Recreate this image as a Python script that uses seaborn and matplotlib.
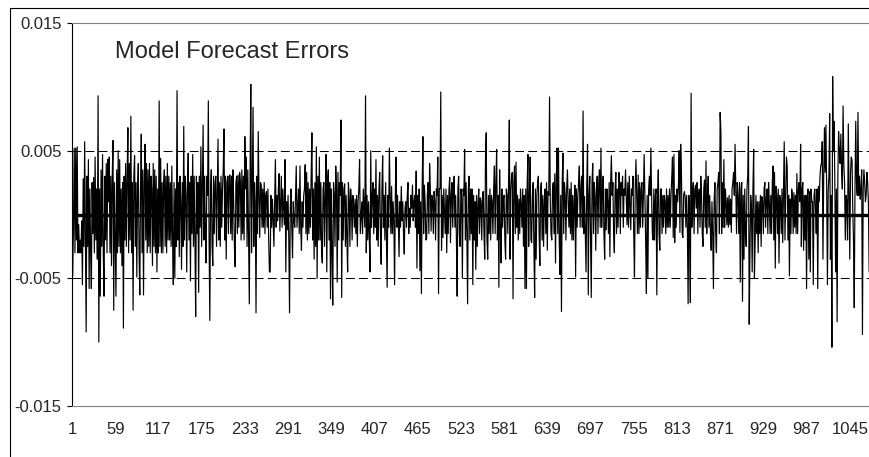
import numpy as np
import pandas as pd
import matplotlib
matplotlib.use("Agg")
import matplotlib.pyplot as plt
import seaborn as sns
from matplotlib.lines import Line2D

# Forecast errors, in units of 1e-4 (obs 1..1072)
err_a = [
    -10, -48, -5, 52, -30, 52, -20, 53, -30, -8,
    -30, -20, -30, -5, -55, 28, -25, 57, -20, -92,
    30, -25, 43, -58, 20, -30, -58, 25, -15, 29,
    -30, 45, -20, 20, -35, 93, -100, 20, -64, 35,
    -25, 47, -30, -64, 30, -20, 40, -30, 43, 10,
    45, -30, 30, -40, 30, 58, -75, 25, -20, -64,
    35, -30, 50, -25, 43, -30, 20, -40, 25, -89,
    30, -20, 40, -25, 30, 68, -30, 40, -20, 77,
    -30, 25, -75, 30, 46, -25, 25, -49, 20, 40,
    -30, -63, 20, 63, -30, 35, -63, 25, 55, -20,
    40, -30, 35, -25, 40, -30, 30, 20, -40, 40,
    -25, 35, -30, 30, -45, 20, -30, 89, -25, 44,
    -30, 25, -30, 25, 35, -25, 30, -30, 40, -20,
    30, -20, 25, -25,
]
err_b = [
    38, -20, -55, 25, -50, 20, -25, 97, -20, 25,
    -33, 30, 10, -43, 25, -25, 69, -20, 30, 15,
    -45, 25, 48, -20, 25, -52, 30, -15, 47, -25,
    30, -20, -80, 30, -15, 25, -61, 30, -10, 53,
    -25, 25, 70, -20, 30, -15, -38, 30, 15, 89,
    -20, -83, 20, 35, -25, -40, 30, -15, 25, 30,
    -25, 20, 59, -20, 25, -25, 30, -10, 20, 35,
    67, -20, 30, -35, 25, 30, -15, 30, 31, -15,
    30, -20, 35, 10, -25, -41, 25, 30, -15, 31,
    -10, 33, 25, -20, 35, -15, 30, -20, 61, 20,
    45, -25, 35, -20, -70, 30, 102, -30, 20, 84,
    -25, 25, 10, -77, 30, -15, 65, 15, -18, 25,
    23, -10, 20, -10, 25, -15, 15, 18, -10, 20, -20, -45,
]
err_c = [
    -45, 15, -10, 12, -5, -25, 10, 43, -10, 15,
    -5, 20, 32, -13, 10, 30, -10, 20, 5, -8,
    43, -45, 10, -12, 15, -20, -77, 5, 20, -10,
    -34, 10, -5, -10, 15, 38, -10, 5, 20, -15,
    38, -10, -28, 10, -10, 15, 20, 39, -15, 33,
    -20, 25, -15, 20, -10, 30, 64, -20, 20, -35,
    25, -25, 53, -50, 30, -20, 45, -20, 25, -30,
    -38, 20, 25, -25, 15, 47, -45, 25, 35, -20,
    25, -66, 20, -30, -71, 25, 15, -25, 38, 20,
    -53, 33, -20, 25, 15, 74, -65, 25, -20, 20,
    24, -25, 15, -20, -45, 25, 15, -25, 20, 10,
    -20, 15, 8, -10, 12, -15, 15, -25, 10, 20,
    43, -15, -2, 10, -15, 20, 5, -10, 93, -30,
    15, -20, 10, -15, -45, 50, -10, 15,
]
err_d = [
    25, -15, 20, -10, 43, -20, 15, -25, 20, 33,
    -15, -39, 20, 46, -10, 15, -20, 25, -15, -57,
    15, -10, 52, 15, -15, 22, -15, 10, -5, -55,
    15, 45, -10, 15, -5, -33, 10, -10, 22, -5,
    10, -15, -31, 5, 10, -10, 15, 25, -15, 5,
    -10, 15, 5, 23, -5, 10, 15, -10, 34, -42,
    15, -15, 20, -44, 10, -62, 20, 61, -15, 23,
    10, -20, -19, 15, 25, -15, 40, 20, -13, 15,
    13, -15, 18, 10, -20, 20, 15, 45, -62, 20,
    20, 96, -28, 15, -18, 20, 3, -15, 20, -30,
    15, -15, 20, 29, -22, 15, 25, -10, 20, 30,
    -10, 15, -20, -64, 20, 30, -15, -25, 20, 15,
    -50, 20, 15, 51, -20, 25, -15, -70, 20, 30,
    -20, 20, -15, 20,
]
err_e = [
    -55, 15, -20, 10, -43, 15, -25, 8, 20, -15,
    13, 10, -20, 15, 18, -15, -35, 43, 64, -20,
    -35, 15, -15, 20, -20, 15, 10, -15, 20, 38,
    -15, 25, 51, -20, 15, -57, 35, -15, -38, 20,
    -10, 12, 15, -20, -35, 20, 15, -15, 25, 74,
    -35, 20, 30, 33, -66, 25, 38, -15, 41, -10,
    15, -20, 12, -15, 20, 8, -10, 20, -25, 15,
    -58, 20, -58, 25, 47, -25, 15, 45, -20, -22,
    15, 25, -25, -65, 20, -35, 15, 25, 30, -15,
    -40, 20, 25, -20, 15, -25, 10, 20, -15, 25,
    -28, 18, 15, 92, 10, -15, -20, 20, 25, -15,
    32, -38, 25, 52, -15, 52, -20, -47, 15, -76,
    25, 48, -15, 25, 15, -20, 20, 35, 10, -10,
    20, -15, 25, -20,
]
err_f = [
    15, -20, 10, 23, -49, 20, -10, 15, 25, 38,
    -10, 20, 30, -10, 81, -15, 14, -15, -45, 25,
    55, -63, 15, 30, -15, -65, 25, 40, -15, 25,
    15, -28, 20, 30, -15, 25, 35, -10, 52, -10,
    20, 30, -15, -35, 20, -12, 20, 10, -15, 25,
    -33, 25, 46, 15, 25, -15, -30, 20, 33, -15,
    20, -10, 33, 25, -15, 25, 15, 30, -10, 20,
    15, 35, 12, -8, 25, -10, 30, 10, -12, 20,
    15, 30, -15, -49, 20, 43, 15, -15, 31, -15,
    25, -10, 20, 25, -10, 15, 47, 15, -20, -62,
    15, -50, 20, 30, 15, 52, 15, -15, -20, 20,
    -20, 15, 20, -63, 15, 35, -15, -28, 20, 20,
    -15, 15, -10, 15, 10, -15, 20, -10, 15, -10,
    20, -10, 15, 28,
]
err_g = [
    45, -18, 47, -22, 15, -10, 20, 10, 23, 50,
    -14, 55, 35, -15, -18, 15, 18, 14, -10, 15,
    -10, -70, 15, -12, -69, 95, -10, 15, 25, -15,
    20, 23, 5, 25, -15, 15, 20, -10, 30, 15,
    -15, -25, 20, 27, -10, 42, -15, 15, 30, -10,
    15, -15, -28, 10, -15, -58, 12, 25, -15, -30,
    20, 25, 33, -15, 80, 65, -15, 25, -10, 43,
    -10, 20, 10, -8, 13, -10, 15, -8, 12, -14,
    20, 25, 33, 15, 55, 20, -15, 25, 15, -15,
    25, -53, 20, 25, -68, 15, -35, 20, -15, -25,
    20, 30, 69, -86, -30, 15, 5, -45, 20, 51,
    -50, -20, 15, -15, 10, -30, 10, -15, 15, -25,
    14, 10, -15, 20, 25, -10, 12, 20, -15, 25,
    10, -15, 15, -15,
]
err_h = [
    25, 38, -20, 33, -42, 22, 15, -15, 20, -38,
    15, 10, -15, 20, -22, 15, 57, -20, 15, 45,
    38, -20, 15, -48, 12, -15, 20, 15, -15, 17,
    -10, 15, -15, 32, -15, 20, 25, 10, 55, -25,
    20, 25, -28, 15, -20, 15, -58, 15, 20, -35,
    18, -45, 20, 10, 10, -55, 15, 20, 5, -15,
    20, -58, 22, 10, 30, 38, 40, 57, -35, 30,
    68, 33, 70, 20, -55, 18, 30, 79, -35, 15,
    -104, 108, 50, 73, 20, -45, 20, -84, 30, 65,
    50, 40, 63, 35, 20, 85, 40, 25, -20, 15,
    10, -20, 71, 20, -35, 33, 45, 43, 5, -20,
    -73, 20, 73, 25, 15, 80, 15, 30, 12, 20,
    35, -94, 20, 35, 25, 10, 15, 33, 25, 10, -45, 15,
]

x_ticks = [1, 59, 117, 175, 233, 291, 349, 407, 465, 523, 581, 639, 697, 755,
           813, 871, 929, 987, 1045]
y_ticks = [-0.015, -0.005, 0.005, 0.015]
y_labels = ["-0.015", "-0.005", "0.005", "0.015"]
band = [-0.005, 0.005]

errors = np.array(err_a + err_b + err_c + err_d + err_e + err_f + err_g + err_h) / 10000
df = pd.DataFrame({"obs": np.arange(1, len(errors) + 1), "error": errors})

sns.set_style("white")
plt.rcParams["font.family"] = ["Liberation Sans", "DejaVu Sans"]

W, H = 870, 457
fig = plt.figure(figsize=(W / 100, H / 100), dpi=100)
ax = fig.add_axes([72 / W, (H - 406) / H, (W - 72) / W, (406 - 23) / H])

# dashed +/- band and the zero line
for b in band:
    ax.axhline(b, color="black", lw=0.75, ls=(0, (8.5, 4)), zorder=1)
sns.lineplot(data=df, x="obs", y="error", color="black", lw=0.85,
             legend=False, ax=ax, zorder=2)
ax.axhline(0, color="black", lw=2.4, zorder=3)

ax.set_xlim(1, 1 + (W - 72) / 0.745)
ax.set_ylim(-0.015, 0.015)
ax.set_xticks(x_ticks, [str(t) for t in x_ticks])
ax.set_yticks(y_ticks, y_labels)
ax.set_xlabel("")
ax.set_ylabel("")
ax.tick_params(axis="x", length=0, pad=11.5, labelsize=12)
ax.tick_params(axis="y", length=3.6, width=0.8, color="black", direction="out",
               pad=4, labelsize=12, left=True)

ax.spines["right"].set_visible(False)
ax.spines["top"].set_color("#808080")
ax.spines["bottom"].set_color("#808080")
ax.spines["left"].set_color("black")
for s in ["top", "bottom", "left"]:
    ax.spines[s].set_linewidth(0.8)

fig.text(115 / W, 1 - 58 / H, "Model Forecast Errors", fontsize=17, va="baseline")

# outer chart frame (cut off at right and bottom)
fig.add_artist(Line2D([10 / W, 10 / W], [0, 1 - 8 / H], transform=fig.transFigure,
                      color="black", lw=0.8))
fig.add_artist(Line2D([10 / W, 1], [1 - 8 / H, 1 - 8 / H], transform=fig.transFigure,
                      color="black", lw=0.8))

fig.savefig("out.png", dpi=100)
